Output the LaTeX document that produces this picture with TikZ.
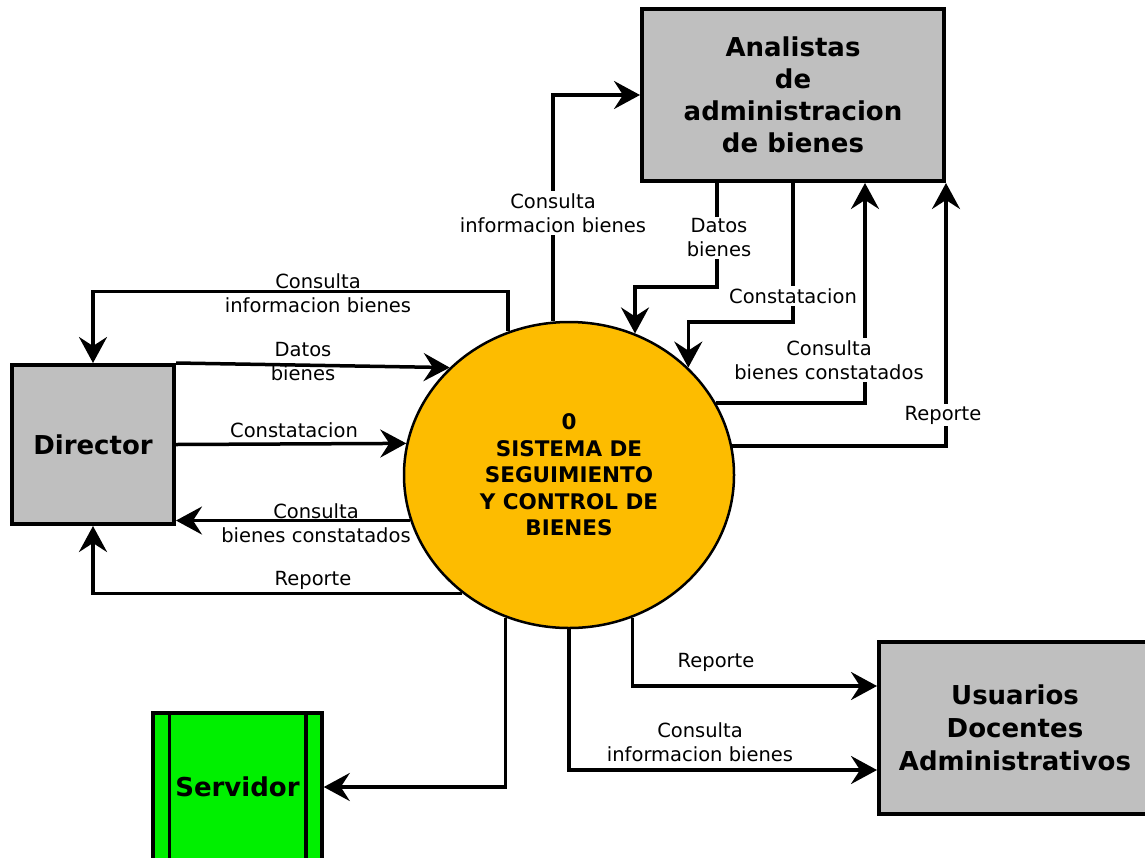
\documentclass[tikz,border=0pt]{standalone}
\usepackage{fontspec}
\setmainfont{DejaVu Sans}
\usepackage{xcolor}
\usepackage{tikz}
\usetikzlibrary{arrows.meta}
\usetikzlibrary{shapes.geometric, positioning}

\definecolor{gris}{RGB}{191,191,191}
\definecolor{ambar}{RGB}{253,188,0}
\definecolor{verde}{RGB}{0,240,0}

\begin{document}
\begin{tikzpicture}[
      >={Stealth[length=26pt, width=28pt, inset=9pt]},
      x=1pt, y=-1pt,
      flow/.style={->, line width=3.5pt},
      ent/.style={draw, line width=4pt, fill=gris, align=center, inner sep=0pt,
        font=\fontsize{26}{32}\selectfont\bfseries},
      lbl/.style={font=\fontsize{19.5}{24}\selectfont, align=center, inner sep=1pt},
      lblw/.style={lbl, fill=white, inner sep=2pt}
    ]
    \useasboundingbox (0,0) rectangle (1145,857);

    % Entidades externas
    \node[ent, minimum width=162pt, minimum height=159pt] (dir) at (93,444.5) {Director};
    \node[ent, minimum width=302pt, minimum height=172pt] (ana) at (793,95)
      {Analistas\\de\\administracion\\de bienes};
    \node[ent, minimum width=272pt, minimum height=172pt,
      font=\fontsize{26}{33}\selectfont\bfseries] (usu) at (1015,728)
      {Usuarios\\Docentes\\Administrativos};

    % Almacen
    \node[ent, fill=verde, line width=3.5pt, minimum width=169pt, minimum height=148pt] (srv) at (237.5,787) {Servidor};
    \draw[line width=3.5pt] ([xshift=18pt]srv.north west) -- ([xshift=18pt]srv.south west);
    \draw[line width=3.5pt] ([xshift=-18pt]srv.north east) -- ([xshift=-18pt]srv.south east);

    % Proceso
    \node[ellipse, draw, line width=2.5pt, fill=ambar, minimum width=330pt, minimum height=306pt,
      inner sep=0pt, align=center, font=\fontsize{21.5}{26.5}\selectfont\bfseries] (sys) at (569,475)
      {0\\SISTEMA DE\\SEGUIMIENTO\\Y CONTROL DE\\BIENES};

    % Flujos con el director
    \draw[flow] (sys.113.6) -- ++(0,-40) -| (dir.north);
    \draw[flow] (dir.north east) -- (sys.138.1);
    \draw[flow] (dir.east) -- (sys.169.9);
    \draw[flow] (sys.196.5) -- (sys.196.5 -| dir.east);
    \draw[flow] (sys.228.5) -| (dir.south);

    % Flujos con los analistas
    \draw[flow] (sys.96) |- (ana.west);
    \draw[flow] ([xshift=-76pt]ana.south) -- ++(0,104) -| (sys.65.9);
    \draw[flow] (ana.south) -- ++(0,139) -| (sys.42.7);
    \draw[flow] (sys.26.7) -| ([xshift=72pt]ana.south);
    \draw[flow] (sys.10.1) -| (ana.south east);

    % Flujos con usuarios y servidor
    \draw[flow] (sys.294.1) |- ([yshift=42pt]usu.west);
    \draw[flow] (sys.south) |- ([yshift=-42pt]usu.west);
    \draw[flow] (sys.246.4) |- (srv.east);

    % Etiquetas
    \node[lbl] (lciD) at (318,293) {Consulta\\informacion bienes};
    \node[lbl] (ldbD) at (303,362) {Datos\\bienes};
    \node[lbl] (lcoD) at (294,430) {Constatacion};
    \node[lbl] (lcbD) at (316,523) {Consulta\\bienes constatados};
    \node[lbl] (lreD) at (313,580) {Reporte};

    \node[lblw] (lciA) at (553,213) {Consulta\\informacion bienes};
    \node[lblw] (ldbA) at (719,238) {Datos\\bienes};
    \node[lblw] (lcoA) at (793,296) {Constatacion};
    \node[lblw] (lcbA) at (829,360) {Consulta\\bienes constatados};
    \node[lblw] (lreA) at (943,415) {Reporte};

    \node[lbl] (lreU) at (716,662) {Reporte};
    \node[lbl] (lciU) at (700,742) {Consulta\\informacion bienes};
  \end{tikzpicture}
\end{document}
